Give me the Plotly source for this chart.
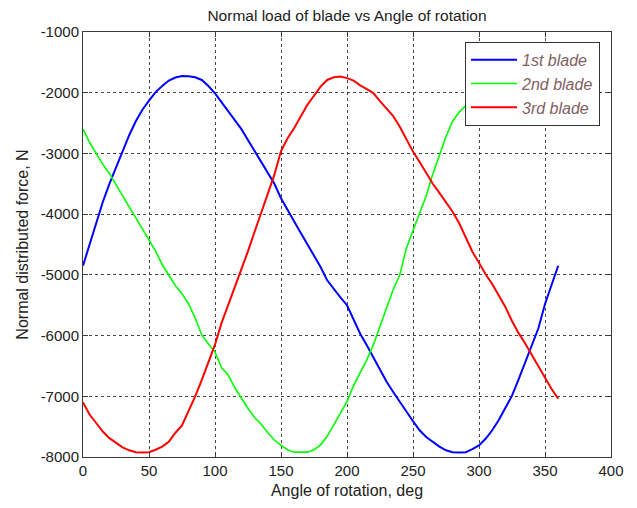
import plotly.graph_objects as go

angle = [0, 5, 10, 15, 20, 25, 30, 35, 40, 45, 50, 55, 60, 65, 70, 75, 80, 85, 90, 95,
         100, 105, 110, 115, 120, 125, 130, 135, 140, 145, 150, 155, 160, 165, 170, 175,
         180, 185, 190, 195, 200, 205, 210, 215, 220, 225, 230, 235, 240, 245, 250, 255,
         260, 265, 270, 275, 280, 285, 290, 295, 300, 305, 310, 315, 320, 325, 330, 335,
         340, 345, 350, 355, 360]

blade1 = [-4850, -4500, -4140, -3800, -3500, -3230, -2960, -2700, -2470, -2280, -2130, -1990,
          -1890, -1800, -1750, -1725, -1730, -1745, -1790, -1890, -2010, -2150, -2300, -2450,
          -2600, -2780, -2940, -3130, -3300, -3500, -3740, -3920, -4120, -4310, -4500, -4680,
          -4870, -5090, -5240, -5370, -5500, -5730, -5970, -6160, -6360, -6570, -6760, -6930,
          -7080, -7250, -7410, -7560, -7670, -7750, -7830, -7890, -7920, -7925, -7920, -7870,
          -7810, -7700, -7560, -7390, -7200, -6990, -6720, -6440, -6180, -5880, -5480, -5150,
          -4850]

blade2 = [-2600, -2820, -3000, -3180, -3330, -3520, -3690, -3880, -4060, -4240, -4420, -4610,
          -4830, -5010, -5180, -5310, -5480, -5710, -5990, -6140, -6270, -6530, -6650, -6860,
          -7040, -7200, -7350, -7460, -7600, -7720, -7810, -7880, -7920, -7925, -7920, -7880,
          -7800, -7660, -7470, -7290, -7090, -6820, -6610, -6400, -6150, -5850, -5520, -5240,
          -5000, -4560, -4270, -4000, -3700, -3340, -3030, -2720, -2470, -2320, -2210, -1990,
          -1890, -1800, -1750, -1725, -1730, -1745, -1780, -1880, -2010, -2170, -2310, -2420,
          -2550]

blade3 = [-7100, -7300, -7440, -7580, -7690, -7760, -7840, -7890, -7920, -7925, -7920, -7880,
          -7830, -7750, -7600, -7480, -7250, -7000, -6730, -6440, -6150, -5790, -5500, -5220,
          -4930, -4610, -4290, -3980, -3680, -3350, -2960, -2750, -2580, -2380, -2200, -2050,
          -1900, -1790, -1745, -1735, -1760, -1800, -1880, -1940, -2005, -2140, -2260, -2385,
          -2560, -2770, -2970, -3140, -3320, -3500, -3650, -3800, -3960, -4150, -4400, -4620,
          -4800, -4990, -5150, -5340, -5530, -5760, -5960, -6130, -6320, -6500, -6700, -6880,
          -7040]

series_names = ["1st blade", "2nd blade", "3rd blade"]
series_colors = ["#0000FF", "#00FF00", "#FF0000"]
series_widths = [2, 1.6, 2]

x_ticks = [0, 50, 100, 150, 200, 250, 300, 350, 400]
x_ticktext = ["0", "50", "100", "150", "200", "250", "300", "350", "400"]
y_ticks = [-8000, -7000, -6000, -5000, -4000, -3000, -2000, -1000]
y_ticktext = ["-8000", "-7000", "-6000", "-5000", "-4000", "-3000", "-2000", "-1000"]

FONT = "Liberation Sans, Arial, sans-serif"

fig = go.Figure()
for name, ys, col, w in zip(series_names, [blade1, blade2, blade3], series_colors, series_widths):
    fig.add_trace(go.Scatter(x=angle, y=ys, mode="lines", name=name,
                             line=dict(color=col, width=w)))

axis_common = dict(
    showline=True, linecolor="#3a3a3a", linewidth=1, mirror="ticks",
    ticks="inside", ticklen=5, tickcolor="#3a3a3a",
    showgrid=True, gridcolor="#444444", gridwidth=1, griddash="3px,3px",
    zeroline=False, tickfont=dict(family=FONT, size=15, color="#222222"),
)

fig.update_xaxes(range=[0, 400], tickvals=x_ticks, ticktext=x_ticktext,
                 title=dict(text="Angle of rotation, deg", standoff=6,
                            font=dict(family=FONT, size=16, color="#222222")),
                 **axis_common)
fig.update_yaxes(range=[-8000, -1000], tickvals=y_ticks, ticktext=y_ticktext,
                 title=dict(text="Normal distributed force, N", standoff=8,
                            font=dict(family=FONT, size=16, color="#222222")),
                 **axis_common)

fig.update_layout(
    width=629, height=500,
    margin=dict(l=75, r=26, t=24, b=48),
    paper_bgcolor="white", plot_bgcolor="white",
    title=dict(text="Normal load of blade vs Angle of rotation", x=0.5, xref="paper",
               xanchor="center", y=0.984, yanchor="middle",
               font=dict(family=FONT, size=15.5, color="#222222")),
    legend=dict(x=0.7235, y=0.977, xanchor="left", yanchor="top",
                bgcolor="white", bordercolor="#333333", borderwidth=1,
                font=dict(family=FONT, size=16, color="#806060", style="italic"),
                itemwidth=46, tracegroupgap=0),
    showlegend=True,
)

fig.write_html("out.html")
